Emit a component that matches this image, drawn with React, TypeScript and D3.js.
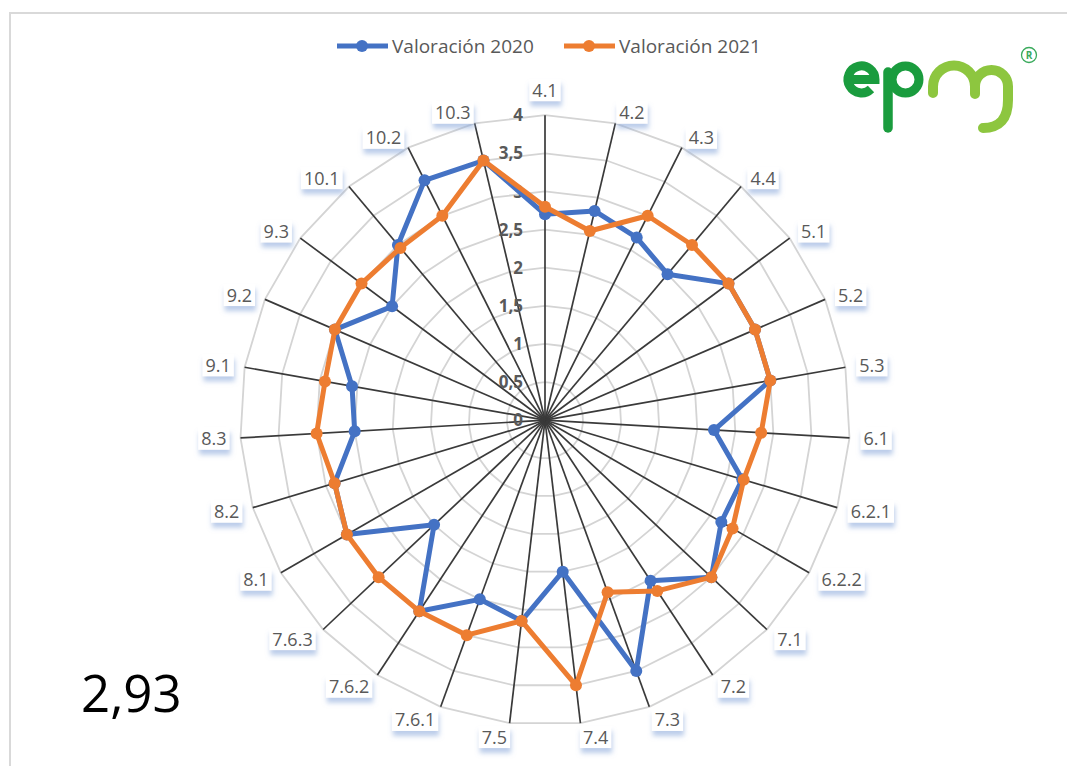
import React, { useEffect, useRef } from "react";
import * as d3 from "d3";

const categories = ["4.1","4.2","4.3","4.4","5.1","5.2","5.3","6.1","6.2.1","6.2.2","7.1","7.2","7.3","7.4","7.5","7.6.1","7.6.2","7.6.3","8.1","8.2","8.3","9.1","9.2","9.3","10.1","10.2","10.3"];
const valores2020 = [2.7, 2.82, 2.68, 2.5, 3.0, 3.0, 3.0, 2.22, 2.7, 2.67, 3.0, 2.52, 3.5, 2.0, 2.65, 2.5, 3.0, 2.0, 3.0, 2.88, 2.5, 2.57, 3.0, 2.5, 3.0, 3.52, 3.5];
const valores2021 = [2.8, 2.55, 3.0, 3.0, 3.0, 3.0, 3.0, 2.84, 2.72, 2.84, 3.0, 2.68, 2.4, 3.5, 2.65, 3.0, 3.0, 3.0, 3.0, 2.88, 3.0, 2.93, 3.0, 3.0, 2.95, 3.0, 3.5];
const tickValues = [0, 0.5, 1, 1.5, 2, 2.5, 3, 3.5, 4];
const tickLabels = ["0", "0,5", "1", "1,5", "2", "2,5", "3", "3,5", "4"];
const seriesNames = ["Valoración 2020", "Valoración 2021"];
const seriesColors = ["#4472C4", "#ED7D31"];
const promedio = "2,93";

const W = 1067, H = 766;
const cx = 545, cy = 420.2, R = 305;
const FONT = "'Open Sans', 'Noto Sans', sans-serif";

export default function App() {
  const ref = useRef<SVGSVGElement>(null);

  useEffect(() => {
    const svg = d3.select(ref.current!);
    svg.selectAll("*").remove();

    const defs = svg.append("defs");
    const f = defs.append("filter").attr("id", "lblShadow")
      .attr("x", "-30%").attr("y", "-30%").attr("width", "160%").attr("height", "200%");
    f.append("feDropShadow").attr("dx", 1).attr("dy", 5).attr("stdDeviation", 2.5)
      .attr("flood-color", "#8eaadb").attr("flood-opacity", 0.6);

    // border
    svg.append("path").attr("d", `M10 ${H} V13 H${W}`).attr("fill", "none")
      .attr("stroke", "#d9d9d9").attr("stroke-width", 2);

    const rScale = d3.scaleLinear().domain([0, 4]).range([0, R]);
    const angle = d3.scaleLinear().domain([0, categories.length]).range([0, 2 * Math.PI]);

    const plot = svg.append("g").attr("transform", `translate(${cx},${cy})`);

    // gridlines
    const gridLine = (t: number) =>
      d3.lineRadial<string>().angle((_, i) => angle(i)).radius(() => rScale(t)).curve(d3.curveLinearClosed)(categories);
    tickValues.slice(1).forEach((t) => {
      plot.append("path").attr("d", gridLine(t)!).attr("fill", "none")
        .attr("stroke", "#d4d4d4").attr("stroke-width", 1.8);
    });

    // spokes
    categories.forEach((_, i) => {
      const a = angle(i);
      plot.append("line").attr("x1", 0).attr("y1", 0)
        .attr("x2", R * Math.sin(a)).attr("y2", -R * Math.cos(a))
        .attr("stroke", "#3a3a3a").attr("stroke-width", 1.7);
    });

    // tick labels
    tickValues.forEach((t, i) => {
      plot.append("text").attr("x", -22).attr("y", -rScale(t)).attr("dy", "0.36em")
        .attr("text-anchor", "end").attr("font-family", FONT).attr("font-weight", "bold")
        .attr("font-size", 17).attr("fill", "#595959").text(tickLabels[i]);
    });

    // series
    const seriesData = [valores2020, valores2021];
    seriesData.forEach((vals, si) => {
      const line = d3.lineRadial<number>().angle((_, i) => angle(i)).radius((d) => rScale(d)).curve(d3.curveLinearClosed);
      plot.append("path").attr("d", line(vals)!).attr("fill", "none")
        .attr("stroke", seriesColors[si]).attr("stroke-width", 5).attr("stroke-linejoin", "round");
      vals.forEach((v, i) => {
        const a = angle(i);
        plot.append("circle").attr("cx", rScale(v) * Math.sin(a)).attr("cy", -rScale(v) * Math.cos(a))
          .attr("r", 6).attr("fill", seriesColors[si]);
      });
    });

    // category labels
    const lg = svg.append("g");
    categories.forEach((c, i) => {
      const a = angle(i);
      const s = Math.sin(a), co = Math.cos(a);
      const ex = cx + R * s, ey = cy - R * co;
      const centered = Math.abs(s) < 0.02;
      const x = centered ? ex : ex + Math.sign(s) * (1 + 13 * Math.abs(s));
      const y = ey - co * (co > 0 ? 11 : 14) - (centered ? 14 : 0);
      const g = lg.append("g");
      const rect = g.append("rect");
      const t = g.append("text").attr("x", x).attr("y", y).attr("dy", "0.36em")
        .attr("text-anchor", centered ? "middle" : s > 0 ? "start" : "end")
        .attr("font-family", FONT).attr("font-size", 18).attr("fill", "#595959").text(c);
      const bb = (t.node() as SVGTextElement).getBBox();
      rect.attr("x", bb.x - 3).attr("y", y - 11).attr("width", bb.width + 6).attr("height", 22)
        .attr("fill", "#ffffff").attr("filter", "url(#lblShadow)");
    });

    // legend
    const legX = [337, 564];
    seriesNames.forEach((n, i) => {
      const g = svg.append("g");
      g.append("line").attr("x1", legX[i]).attr("x2", legX[i] + 51).attr("y1", 46).attr("y2", 46)
        .attr("stroke", seriesColors[i]).attr("stroke-width", 5);
      g.append("circle").attr("cx", legX[i] + 25).attr("cy", 46).attr("r", 6).attr("fill", seriesColors[i]);
      g.append("text").attr("x", legX[i] + 55).attr("y", 46).attr("dy", "0.36em")
        .attr("font-family", FONT).attr("font-size", 19).attr("fill", "#595959").text(n);
    });

    // average
    svg.append("text").attr("x", 81).attr("y", 712).attr("font-family", FONT)
      .attr("font-size", 51).attr("fill", "#000").text(promedio);

    // logo
    const logo = svg.append("g").attr("fill", "none").attr("stroke-linecap", "round");
    logo.append("path").attr("d", "M848 79.5 H875 A13.5 13.5 0 1 0 871 89")
      .attr("stroke", "#1a9c3e").attr("stroke-width", 9).attr("stroke-linecap", "butt");
    logo.append("path").attr("d", "M888 72 V128").attr("stroke", "#1a9c3e").attr("stroke-width", 9.5);
    logo.append("circle").attr("cx", 905.5).attr("cy", 79.5).attr("r", 13.5)
      .attr("stroke", "#1a9c3e").attr("stroke-width", 9);
    logo.append("path")
      .attr("d", "M933 93 V86.5 A21 21 0 0 1 975 86.5 V94 M975 86.5 A16.5 16.5 0 0 1 1008 86.5 V100 Q1008 128 983 128")
      .attr("stroke", "#8dc63f").attr("stroke-width", 10);
    logo.append("circle").attr("cx", 1029).attr("cy", 55).attr("r", 7.5)
      .attr("stroke", "#3aaa5c").attr("stroke-width", 1.3);
    svg.append("text").attr("x", 1029).attr("y", 55).attr("dy", "0.35em").attr("text-anchor", "middle")
      .attr("font-family", FONT).attr("font-weight", "bold").attr("font-size", 10).attr("fill", "#3aaa5c").text("R");
  }, []);

  return (
    <svg ref={ref} width={W} height={H}
      style={{ position: "absolute", left: 0, top: 0, background: "#fff" }} />
  );
}
